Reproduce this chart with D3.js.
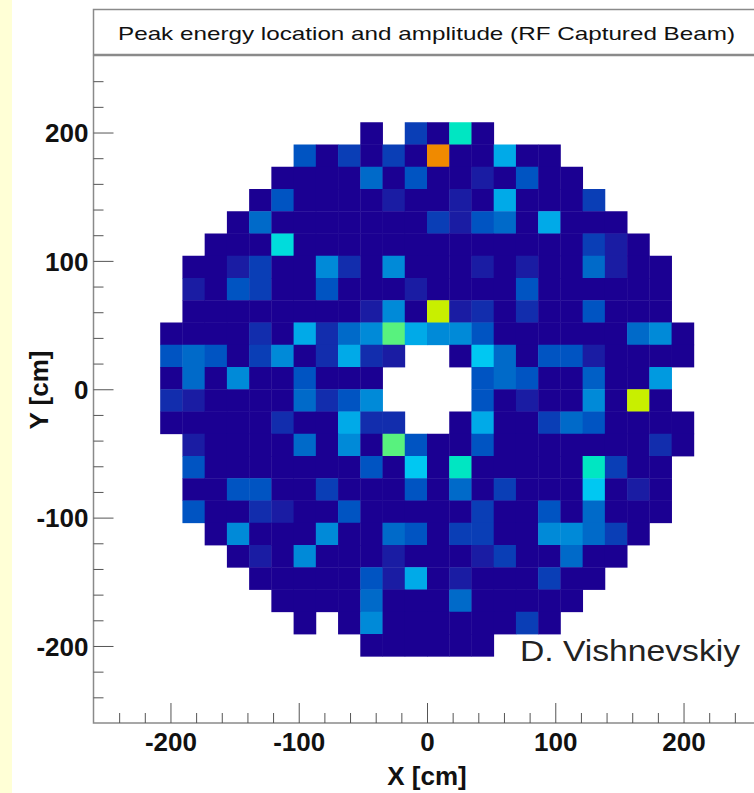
<!DOCTYPE html>
<html>
<head>
<meta charset="utf-8">
<script src="https://cdn.jsdelivr.net/npm/d3@7"></script>
<style>
	body{margin:0;background:#fff;}
	svg{display:block;}
	.tickLbl text{font-family:"Liberation Sans", Arial, sans-serif;font-weight:bold;font-size:26px;fill:#111;}
	.axisTitle{font-family:"Liberation Sans", Arial, sans-serif;font-weight:bold;font-size:26px;fill:#111;}
</style>
</head>
<body>
<svg id="chart" width="754" height="793"></svg>
<script>
// histogram binning (cm)
var axisMin = -260, axisMax = 260, nBins = 30;
var firstBin = 3; // first filled column / row of the 30 bins

var titleTxt = "Peak energy location and amplitude (RF Captured Beam)";
var xTitle = "X [cm]", yTitle = "Y [cm]", author = "D. Vishnevskiy";
var majorTicks = [-200, -100, 0, 100, 200];
var minorTicks = [-240, -220, -180, -160, -140, -120, -80, -60, -40, -20, 20, 40, 60, 80, 120, 140, 160, 180, 220, 240];

// amplitude per cell, rows from top (Y high) to bottom, 24 columns from X low; 0 = empty bin
var row00 = [0,0,0,0,0,0,0,0,0,1,0,3,1,10,1,0,0,0,0,0,0,0,0,0];
var row01 = [0,0,0,0,0,0,4,1,3,1,3,1,13,1,1,7,1,1,0,0,0,0,0,0];
var row02 = [0,0,0,0,0,1,1,1,1,5,1,4,1,1,2,1,4,1,1,0,0,0,0,0];
var row03 = [0,0,0,0,1,4,1,1,1,1,2,1,1,2,1,7,1,1,1,3,0,0,0,0];
var row04 = [0,0,0,1,5,1,1,1,1,1,1,1,3,2,4,5,1,7,1,1,1,0,0,0];
var row05 = [0,0,1,1,1,9,1,1,1,1,1,1,1,1,1,1,1,1,1,3,2,1,0,0];
var row06 = [0,1,1,2,3,1,1,6,2.5,1,6,1,1,1,2,1,2,1,1,5,2,1,1,0];
var row07 = [0,2,1,4,3,1,1,4,1,1,1,2,1,1,1,1,4,1,1,1,1,1,1,0];
var row08 = [0,1,1,1,1,1,1,1,1,2,6,1,12,2,2.5,1,2.5,1,1,4,1,1,1,0];
var row09 = [1,1,1,1,2.5,1,7,2.5,5,6,11,7,6,6,4,1,1,1,1,1,1,5,6,1];
var row10 = [4,5,4,1,3,6,1,2.5,7,2.5,2,0,0,1,8,5,1,4,4,2,1,1,1,1];
var row11 = [1,5,1,6,1,1,4,1,1,1,0,0,0,0,4,5,4,1,1,4.5,1,1,6.5,0];
var row12 = [2.5,2,1,1,1,1,5,2.5,4,6,0,0,0,0,4,1,2,1,1,6,1,12,1,0];
var row13 = [1,1,1,1,1,2.5,1,1,7,2.5,2.5,0,0,1,7,1,1,3,5,4,1,1,1,1];
var row14 = [0,2,1,1,1,1,5,1,6,1,11,4,1,1,4,1,1,1,1,1,1,1,2.5,1];
var row15 = [0,4,1,1,1,1,1,1,1,4,1,8,1,10,1,1,1,1,1,10,3,1,1,0];
var row16 = [0,1,1,4,4,1,1,3,1,1,1,4,1,5,1,3,1,1,1,8,1,2,1,0];
var row17 = [0,4,1,1,2.5,2,1,1,4,1,1,1,1,1,3,1,1,4,1,5,1,1,1,0];
var row18 = [0,0,1,6,1,1,1,6,1,1,5,4,1,3,3,1,1,6,6,5,3,1,0,0];
var row19 = [0,0,0,1,2,1,6,1,1,1,2,1,1,1,2,3,1,1,5,1,1,0,0,0];
var row20 = [0,0,0,0,1,1,1,1,1,4,2,7,1,2,1,1,1,3,1,1,0,0,0,0];
var row21 = [0,0,0,0,0,1,1,1,1,5,1,1,1,5,1,1,1,1,1,0,0,0,0,0];
var row22 = [0,0,0,0,0,0,1,0,1,6,1,1,1,1,1,1,3,1,0,0,0,0,0,0];
var row23 = [0,0,0,0,0,0,0,0,0,1,1,1,1,1,1,0,0,0,0,0,0,0,0,0];
var amplitude = [row00,row01,row02,row03,row04,row05,row06,row07,row08,row09,row10,row11,
				 row12,row13,row14,row15,row16,row17,row18,row19,row20,row21,row22,row23];

// palette (violet -> blue -> cyan -> green -> yellow -> orange)
var paletteLevels = [1, 2, 3, 4, 5, 6, 7, 8, 9, 10, 11, 12, 13];
var paletteColors = ["#1b0092","#1a1ca3","#0a3eb6","#0054c2","#006ac9","#008ad8","#00aae8",
					 "#00c8f2","#00dcdc","#00e6c2","#58f27e","#c8ef00","#f08a00"];

var svg = d3.select("#chart");
var binW = (axisMax - axisMin) / nBins;

var scaleX = d3.scaleLinear().domain([axisMin, axisMax]).range([93.5, 760.5]);
var scaleY = d3.scaleLinear().domain([axisMin, axisMax]).range([723, 55.5]);
var color = d3.scaleLinear().domain(paletteLevels).range(paletteColors).clamp(true);

// plain hyphen for negatives, like the original
function plainFmt(d){
	return String(d);
}

// left yellow strip of the page
svg.append("rect").attr("x", 0).attr("y", 0).attr("width", 12).attr("height", 793).attr("fill", "#ffffd6");

// cells
var cells = [];
amplitude.forEach(function(row, r){
	row.forEach(function(v, c){
		if(v > 0){
			cells.push({
				x0: axisMin + (firstBin + c) * binW,
				y1: axisMax - (firstBin + r) * binW,
				v: v
			});
		}
	});
});

svg.append("g")
	.selectAll("rect")
	.data(cells)
	.enter()
	.append("rect")
	.attr("x", function(d){ return scaleX(d.x0); })
	.attr("y", function(d){ return scaleY(d.y1); })
	.attr("width", function(d){ return scaleX(d.x0 + binW) - scaleX(d.x0) + 0.4; })
	.attr("height", function(d){ return scaleY(d.y1 - binW) - scaleY(d.y1) + 0.4; })
	.attr("fill", function(d){ return color(d.v); });

// frame + title box
svg.append("rect")
	.attr("x", 93.5).attr("y", 55.5).attr("width", 700).attr("height", 667.5)
	.attr("fill", "none").attr("stroke", "#8a8a8a").attr("stroke-width", 1.5);
svg.append("rect")
	.attr("x", 93.5).attr("y", 9.5).attr("width", 700).attr("height", 45)
	.attr("fill", "#fff").attr("stroke", "#8a8a8a").attr("stroke-width", 1.5);

svg.append("text")
	.attr("x", 118).attr("y", 40)
	.attr("textLength", 617).attr("lengthAdjust", "spacingAndGlyphs")
	.style("font-family", "'Liberation Sans', Arial, sans-serif")
	.style("font-size", "19px").style("fill", "#111")
	.text(titleTxt);

// y axis ticks (inside)
svg.append("g")
	.attr("transform", "translate(93.5,0)")
	.call(d3.axisRight(scaleY).tickValues(majorTicks).tickSize(20).tickFormat(""))
	.call(function(g){ g.select(".domain").remove(); g.selectAll("line").attr("stroke", "#555"); });
svg.append("g")
	.attr("transform", "translate(93.5,0)")
	.call(d3.axisRight(scaleY).tickValues(minorTicks).tickSize(10).tickFormat(""))
	.call(function(g){ g.select(".domain").remove(); g.selectAll("line").attr("stroke", "#555"); });
svg.append("g")
	.attr("class", "tickLbl")
	.attr("transform", "translate(93.5,0)")
	.call(d3.axisLeft(scaleY).tickValues(majorTicks).tickSize(0).tickPadding(5).tickFormat(plainFmt))
	.call(function(g){ g.select(".domain").remove(); g.selectAll("text").attr("dy", "0.36em"); });

// x axis ticks (inside)
svg.append("g")
	.attr("transform", "translate(0,723)")
	.call(d3.axisTop(scaleX).tickValues(majorTicks).tickSize(20).tickFormat(""))
	.call(function(g){ g.select(".domain").remove(); g.selectAll("line").attr("stroke", "#555"); });
svg.append("g")
	.attr("transform", "translate(0,723)")
	.call(d3.axisTop(scaleX).tickValues(minorTicks).tickSize(10).tickFormat(""))
	.call(function(g){ g.select(".domain").remove(); g.selectAll("line").attr("stroke", "#555"); });
svg.append("g")
	.attr("class", "tickLbl")
	.attr("transform", "translate(0,723)")
	.call(d3.axisBottom(scaleX).tickValues(majorTicks).tickSize(0).tickPadding(10).tickFormat(plainFmt))
	.call(function(g){ g.select(".domain").remove(); });

// axis titles
svg.append("text")
	.attr("class", "axisTitle")
	.attr("text-anchor", "middle")
	.attr("transform", "translate(48,390) rotate(-90)")
	.text(yTitle);
svg.append("text")
	.attr("class", "axisTitle")
	.attr("text-anchor", "middle")
	.attr("x", 427).attr("y", 785)
	.text(xTitle);

svg.append("text")
	.attr("x", 520).attr("y", 661)
	.attr("textLength", 220).attr("lengthAdjust", "spacingAndGlyphs")
	.style("font-family", "'Liberation Sans', Arial, sans-serif")
	.style("font-size", "29px").style("fill", "#222")
	.text(author);
</script>
</body>
</html>
